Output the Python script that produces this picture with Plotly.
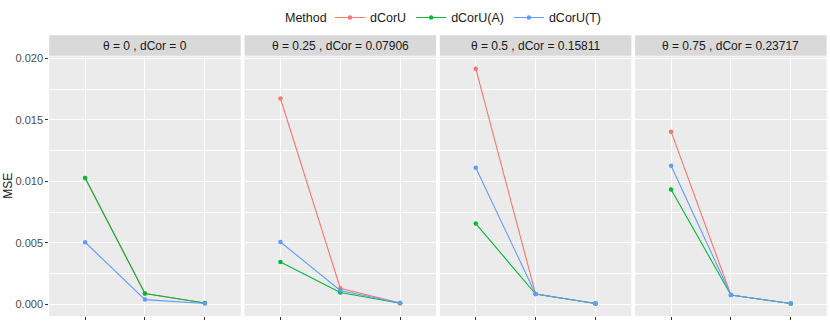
import plotly.graph_objects as go

# ---- data ----
methods = ["dCorU", "dCorU(A)", "dCorU(T)"]
colors = ["#F8766D", "#00BA38", "#619CFF"]
x_levels = ["1", "2", "3"]
thetas = ["0", "0.25", "0.5", "0.75"]
dcors = ["0", "0.07906", "0.15811", "0.23717"]

mse_theta0 = {
    "dCorU":    [0.01028, 0.00088, 0.00010],
    "dCorU(A)": [0.01028, 0.00088, 0.00010],
    "dCorU(T)": [0.00505, 0.00038, 0.00006],
}
mse_theta025 = {
    "dCorU":    [0.01675, 0.00131, 0.00010],
    "dCorU(A)": [0.00345, 0.00096, 0.00009],
    "dCorU(T)": [0.00507, 0.00112, 0.00010],
}
mse_theta05 = {
    "dCorU":    [0.01918, 0.00083, 0.00006],
    "dCorU(A)": [0.00657, 0.00083, 0.00006],
    "dCorU(T)": [0.01111, 0.00083, 0.00006],
}
mse_theta075 = {
    "dCorU":    [0.01405, 0.00075, 0.00006],
    "dCorU(A)": [0.00935, 0.00075, 0.00006],
    "dCorU(T)": [0.01127, 0.00075, 0.00006],
}
panels = [mse_theta0, mse_theta025, mse_theta05, mse_theta075]

# ---- layout geometry ----
W, H = 830, 322
left, right = 49.2, 826.7
gap = 3.8
pw = (right - left - 3 * gap) / 4
y_bot_px, y_top_px = 316, 53
strip_top_px = 31.7
ydom = [(H - y_bot_px) / H, (H - y_top_px) / H]

FONT = "Liberation Sans, Arial, sans-serif"

fig = go.Figure()
layout = dict(
    width=W, height=H,
    margin=dict(l=0, r=0, t=0, b=0),
    paper_bgcolor="white",
    plot_bgcolor="#EBEBEB",
    font=dict(family=FONT, color="#1A1A1A"),
    showlegend=True,
    legend=dict(
        orientation="h",
        x=330 / W, xanchor="left",
        y=(H - 14) / H, yanchor="middle",
        font=dict(size=12.5, color="#1A1A1A"),
        itemwidth=30,
        bgcolor="rgba(0,0,0,0)",
        tracegroupgap=0,
    ),
)
shapes = []
annotations = []

yrange = [-0.00096, 0.02018]

for p, data in enumerate(panels):
    x0 = left + p * (pw + gap)
    x1 = x0 + pw
    suffix = "" if p == 0 else str(p + 1)
    xa = "xaxis" + suffix
    ya = "yaxis" + suffix
    layout[xa] = dict(
        domain=[x0 / W, x1 / W],
        range=[-0.6, 2.6],
        type="linear",
        tickvals=[0, 1, 2],
        showticklabels=False,
        ticks="outside", ticklen=3, tickwidth=1, tickcolor="#333333",
        showgrid=True, gridcolor="white", gridwidth=1.1,
        zeroline=False, showline=False,
        anchor="y" + suffix,
        fixedrange=True,
    )
    layout[ya] = dict(
        domain=ydom,
        range=yrange,
        tickvals=[0, 0.005, 0.01, 0.015, 0.02],
        tickformat=".3f",
        showticklabels=(p == 0),
        ticks="outside" if p == 0 else "",
        ticklen=3, tickwidth=1, tickcolor="#333333",
        tickfont=dict(size=11, color="#4D4D4D", family=FONT),
        showgrid=True, gridcolor="white", gridwidth=1.1,
        minor=dict(tickvals=[0.0025, 0.0075, 0.0125, 0.0175],
                   showgrid=True, gridcolor="white", gridwidth=0.5),
        zeroline=False, showline=False,
        anchor="x" + suffix,
        fixedrange=True,
    )
    for m, c in zip(methods, colors):
        fig.add_trace(go.Scatter(
            x=list(range(len(x_levels))), y=data[m],
            mode="lines+markers",
            line=dict(color=c, width=1.1),
            marker=dict(color=c, size=4.5),
            name=m, legendgroup=m, showlegend=(p == 0),
            xaxis="x" + suffix, yaxis="y" + suffix,
            hovertext=x_levels,
        ))
    # strip
    shapes.append(dict(
        type="rect", xref="paper", yref="paper",
        x0=x0 / W, x1=x1 / W,
        y0=(H - y_top_px + 0.5) / H, y1=(H - strip_top_px) / H,
        fillcolor="#D9D9D9", line=dict(width=0), layer="below",
    ))
    annotations.append(dict(
        text=f"θ = {thetas[p]} , dCor = {dcors[p]}",
        xref="paper", yref="paper",
        x=(x0 + x1) / 2 / W, y=(H - (strip_top_px + y_top_px) / 2) / H,
        xanchor="center", yanchor="middle", showarrow=False,
        font=dict(size=12, color="#1A1A1A", family=FONT),
    ))

# legend title
annotations.append(dict(
    text="Method", xref="paper", yref="paper",
    x=283 / W, y=(H - 14) / H, xanchor="left", yanchor="middle",
    showarrow=False, font=dict(size=12.5, color="#1A1A1A", family=FONT),
))
# y-axis title
annotations.append(dict(
    text="MSE", xref="paper", yref="paper",
    x=8.5 / W, y=(H - (y_bot_px + y_top_px) / 2) / H,
    xanchor="center", yanchor="middle", textangle=-90, showarrow=False,
    font=dict(size=12, color="#1A1A1A", family=FONT),
))

layout["shapes"] = shapes
layout["annotations"] = annotations
fig.update_layout(**layout)
fig.write_html(
    "out.html",
    config={"displayModeBar": False},
    post_script="document.body.style.margin='0px';document.body.style.padding='0px';",
)
